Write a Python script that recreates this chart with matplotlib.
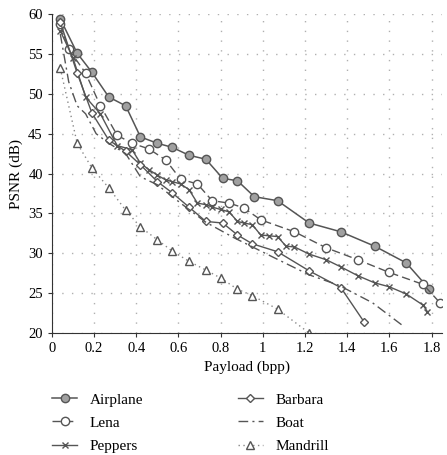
import matplotlib
matplotlib.use("Agg")
from matplotlib import pyplot as plt

# Данные
airplane_x = [0.04, 0.12, 0.19, 0.27, 0.35, 0.42, 0.50, 0.57, 0.65, 0.73, 0.81, 0.88, 0.96, 1.07, 1.22, 1.37, 1.53, 1.68, 1.79]
airplane_y = [59.4, 55.1, 52.7, 49.6, 48.5, 44.6, 43.8, 43.3, 42.3, 41.8, 39.4, 39.1, 37.1, 36.6, 33.8, 32.7, 30.9, 28.8, 25.5]

lena_x = [0.04, 0.08, 0.16, 0.23, 0.31, 0.38, 0.46, 0.54, 0.61, 0.69, 0.76, 0.84, 0.91, 0.99, 1.15, 1.30, 1.45, 1.60, 1.76, 1.84]
lena_y = [58.7, 55.6, 52.6, 48.5, 44.8, 43.8, 43.1, 41.7, 39.3, 38.7, 36.6, 36.3, 35.7, 34.2, 32.7, 30.7, 29.2, 27.6, 26.1, 23.8]

peppers_x = [0.04, 0.10, 0.16, 0.23, 0.31, 0.38, 0.42, 0.46, 0.50, 0.54, 0.57, 0.61, 0.65, 0.69, 0.73, 0.76, 0.80, 0.84,
             0.88, 0.91, 0.95, 0.99, 1.03, 1.07, 1.11, 1.15, 1.22, 1.30, 1.37, 1.45, 1.53, 1.60, 1.68, 1.76, 1.78]
peppers_y = [57.9, 54.5, 49.6, 47.5, 43.5, 43.0, 41.3, 40.5, 39.8, 39.2, 39.0, 38.7, 38.0, 36.3, 36.1, 35.8, 35.5, 35.2,
             34.0, 33.8, 33.6, 32.3, 32.2, 32.1, 30.9, 30.8, 29.9, 29.2, 28.3, 27.2, 26.3, 25.8, 24.9, 23.5, 22.7]

barbara_x = [0.04, 0.12, 0.19, 0.27, 0.35, 0.42, 0.50, 0.57, 0.65, 0.73, 0.81, 0.88, 0.95, 1.07, 1.22, 1.37, 1.48]
barbara_y = [59.0, 52.6, 47.6, 44.2, 42.8, 41.1, 39.0, 37.6, 35.8, 34.0, 33.8, 32.3, 31.2, 30.2, 27.8, 25.7, 21.4]

boat_x = [0.04, 0.08, 0.12, 0.16, 0.21, 0.27, 0.35, 0.42, 0.50, 0.61, 0.73, 0.86, 1.05, 1.22, 1.36, 1.52, 1.66]
boat_y = [57.5, 51.5, 48.5, 47.5, 45.0, 43.8, 42.5, 39.6, 38.6, 36.3, 33.9, 32.0, 29.5, 27.3, 26.0, 23.8, 21.0]

mandrill_x = [0.04, 0.12, 0.19, 0.27, 0.35, 0.42, 0.50, 0.57, 0.65, 0.73, 0.80, 0.88, 0.95, 1.07, 1.22]
mandrill_y = [53.2, 43.8, 40.7, 38.2, 35.4, 33.3, 31.7, 30.3, 29.0, 27.9, 26.9, 25.5, 24.7, 23.0, 20.0]

plt.rcParams["font.family"] = ["Liberation Serif", "DejaVu Serif"]

fig = plt.figure(figsize=(4.47, 4.55), dpi=100)
ax = fig.add_axes([0.116, 0.268, 0.873, 0.701])

line_color = "#555555"
ms = 6

ax.plot(airplane_x, airplane_y, "-", color=line_color, lw=1.1, marker="o", ms=ms,
        mfc="#a0a0a0", mec=line_color, label="Airplane")
ax.plot(lena_x, lena_y, color=line_color, lw=1.0, ls=(0, (6, 3)), marker="o", ms=ms,
        mfc="white", mec=line_color, label="Lena")
ax.plot(peppers_x, peppers_y, "-", color=line_color, lw=1.0, marker="x", ms=4.5,
        mec=line_color, label="Peppers")
ax.plot(barbara_x, barbara_y, "-", color=line_color, lw=1.0, marker="D", ms=4.2,
        mfc="white", mec=line_color, label="Barbara")
ax.plot(boat_x, boat_y, color=line_color, lw=1.0, ls=(0, (7, 3, 1.5, 3)), label="Boat")
ax.plot(mandrill_x, mandrill_y, color="#888888", lw=1.0, ls=(0, (1, 2.5)), marker="^", ms=ms,
        mfc="white", mec=line_color, label="Mandrill")

ax.set_xlim(0, 1.85)
ax.set_ylim(20, 60)
ax.set_xticks([0, 0.2, 0.4, 0.6, 0.8, 1, 1.2, 1.4, 1.6, 1.8])
ax.set_xticklabels(["0", "0.2", "0.4", "0.6", "0.8", "1", "1.2", "1.4", "1.6", "1.8"])
ax.set_yticks(range(20, 61, 5))
ax.grid(True, color="#b0b0b0", ls=(0, (1, 6)), lw=1.0)
ax.spines["top"].set_visible(False)
ax.spines["right"].set_visible(False)
ax.spines["left"].set_color("#333333")
ax.spines["bottom"].set_color("#333333")
ax.tick_params(direction="out", length=3, labelsize=10.5, color="#333333")

ax.set_xlabel("Payload (bpp)", fontsize=11)
ax.set_ylabel("PSNR (dB)", fontsize=11)

fig.legend(loc="upper left", bbox_to_anchor=(0.103, 0.15), ncol=2, frameon=False,
           fontsize=11, handlelength=1.65, columnspacing=6.2, labelspacing=0.62,
           handletextpad=0.8, borderaxespad=0)

plt.savefig("out.png", dpi=100)
